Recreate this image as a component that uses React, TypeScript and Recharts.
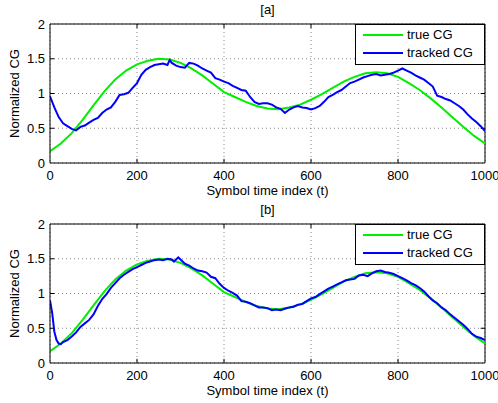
import React from 'react';
import { LineChart, Line, XAxis, YAxis, CartesianGrid, ReferenceLine, Legend, Label } from 'recharts';

const xTicks = [0, 200, 400, 600, 800, 1000];
const yTicks = [0, 0.5, 1, 1.5, 2];

const trueCgTime = [0, 25, 50, 75, 100, 125, 150, 175, 200, 225, 250, 275, 300, 325, 350, 375, 400, 425, 450, 475, 500, 525, 550, 575, 600, 625, 650, 675, 700, 725, 750, 775, 800, 825, 850, 875, 900, 925, 950, 975, 1000];
const trueCgValue = [0.17, 0.28, 0.43, 0.62, 0.83, 1.03, 1.2, 1.33, 1.42, 1.47, 1.5, 1.49, 1.44, 1.36, 1.26, 1.14, 1.02, 0.95, 0.88, 0.82, 0.785, 0.775, 0.8, 0.84, 0.91, 0.99, 1.08, 1.17, 1.24, 1.29, 1.305, 1.29, 1.24, 1.15, 1.05, 0.93, 0.8, 0.66, 0.52, 0.39, 0.28];

const trackedATime = [0, 10, 20, 30, 40, 50, 60, 70, 80, 90, 100, 110, 120, 130, 140, 150, 160, 170, 180, 190, 200, 210, 220, 230, 240, 250, 260, 270, 275, 280, 290, 300, 310, 320, 330, 340, 350, 360, 370, 380, 390, 400, 410, 420, 430, 440, 450, 460, 470, 480, 490, 500, 510, 520, 530, 540, 550, 560, 570, 580, 590, 600, 610, 620, 630, 640, 650, 660, 670, 680, 690, 700, 710, 720, 730, 740, 750, 760, 770, 780, 790, 800, 810, 820, 830, 840, 850, 860, 870, 880, 890, 900, 910, 920, 930, 940, 950, 960, 970, 980, 990, 1000];
const trackedAValue = [0.96, 0.8, 0.66, 0.57, 0.53, 0.49, 0.47, 0.52, 0.54, 0.58, 0.62, 0.65, 0.72, 0.77, 0.8, 0.88, 0.98, 0.99, 1.01, 1.08, 1.15, 1.27, 1.34, 1.38, 1.41, 1.42, 1.43, 1.41, 1.48, 1.44, 1.4, 1.38, 1.37, 1.44, 1.43, 1.4, 1.36, 1.33, 1.3, 1.22, 1.2, 1.17, 1.15, 1.11, 1.08, 1.05, 1.04, 0.95, 0.88, 0.85, 0.86, 0.86, 0.84, 0.8, 0.78, 0.72, 0.77, 0.8, 0.82, 0.8, 0.79, 0.77, 0.79, 0.82, 0.88, 0.95, 0.98, 1.02, 1.05, 1.1, 1.15, 1.17, 1.2, 1.23, 1.25, 1.27, 1.28, 1.26, 1.27, 1.28, 1.3, 1.33, 1.36, 1.33, 1.3, 1.26, 1.23, 1.2, 1.15, 1.1, 0.97, 0.95, 0.92, 0.9, 0.86, 0.82, 0.77, 0.7, 0.64, 0.59, 0.53, 0.46];

const trackedBTime = [0, 5, 10, 15, 20, 25, 30, 40, 50, 60, 70, 80, 90, 100, 110, 120, 130, 140, 150, 160, 170, 180, 190, 200, 210, 220, 230, 240, 250, 260, 270, 280, 285, 295, 300, 310, 320, 330, 340, 350, 360, 370, 380, 390, 400, 410, 420, 430, 440, 450, 460, 470, 480, 490, 500, 510, 520, 530, 540, 550, 560, 570, 580, 590, 600, 610, 620, 630, 640, 650, 660, 670, 680, 690, 700, 710, 720, 730, 740, 750, 760, 770, 780, 790, 800, 810, 820, 830, 840, 850, 860, 870, 880, 890, 900, 910, 920, 930, 940, 950, 960, 970, 980, 990, 1000];
const trackedBValue = [0.9, 0.72, 0.45, 0.33, 0.28, 0.27, 0.3, 0.33, 0.38, 0.44, 0.52, 0.57, 0.62, 0.7, 0.82, 0.92, 0.99, 1.08, 1.15, 1.22, 1.27, 1.31, 1.35, 1.38, 1.41, 1.44, 1.46, 1.48, 1.49, 1.48, 1.5, 1.49, 1.46, 1.52, 1.49, 1.43, 1.4, 1.36, 1.33, 1.32, 1.3, 1.24, 1.22, 1.14, 1.08, 1.04, 1.01, 0.97, 0.89, 0.88, 0.86, 0.83, 0.8, 0.8, 0.79, 0.76, 0.77, 0.76, 0.78, 0.8, 0.81, 0.84, 0.85, 0.89, 0.93, 0.95, 0.99, 1.03, 1.07, 1.1, 1.13, 1.16, 1.19, 1.2, 1.21, 1.26, 1.27, 1.25, 1.29, 1.32, 1.33, 1.31, 1.3, 1.28, 1.25, 1.22, 1.19, 1.15, 1.12, 1.08, 1.03, 0.96, 0.9, 0.86, 0.8, 0.76, 0.7, 0.65, 0.6, 0.55, 0.49, 0.42, 0.38, 0.36, 0.33];

const seriesNames = ['true CG', 'tracked CG'];
const seriesColors = ['#00ee00', '#0000ff'];
const panelTitles = ['[a]', '[b]'];

const FONT = '"Liberation Sans", Arial, Helvetica, sans-serif';

const toPoints = (ts: number[], vs: number[]) => ts.map((t, i) => ({ t, v: vs[i] }));

const trueData = toPoints(trueCgTime, trueCgValue);
const trackedA = toPoints(trackedATime, trackedAValue);
const trackedB = toPoints(trackedBTime, trackedBValue);

const LegendBox = () => (
  <div
    style={{
      position: 'relative',
      width: 130,
      height: 41,
      border: '1px solid #000',
      background: '#fff',
      boxSizing: 'border-box',
      fontFamily: FONT,
      fontSize: 13,
      color: '#000',
    }}
  >
    {seriesNames.map((name, i) => (
      <div
        key={name}
        style={{ position: 'absolute', left: 7, top: 2 + i * 18, height: 16, lineHeight: '16px', display: 'flex', alignItems: 'center' }}
      >
        <svg width={40} height={16} style={{ display: 'block' }}>
          <line x1={0} y1={8} x2={40} y2={8} stroke={seriesColors[i]} strokeWidth={2} />
        </svg>
        <span style={{ marginLeft: 4, whiteSpace: 'nowrap' }}>{name}</span>
      </div>
    ))}
  </div>
);

const fmt = (v: number) => String(v);

const Panel = ({ tracked, top, title }: { tracked: { t: number; v: number }[]; top: number; title: string }) => (
  <div style={{ position: 'absolute', left: 0, top, width: 498, height: 200 }}>
    <div
      style={{
        position: 'absolute',
        left: 0,
        width: 535,
        top: 3,
        textAlign: 'center',
        fontFamily: FONT,
        fontSize: 13,
        lineHeight: '13px',
        color: '#000',
        zIndex: 2,
        pointerEvents: 'none',
      }}
    >
      {title}
    </div>
    <LineChart width={498} height={200} margin={{ top: 24, right: 13, bottom: 17, left: 10 }}>
      <CartesianGrid stroke="#8a8a8a" strokeDasharray="1 3" />
      <XAxis
        dataKey="t"
        type="number"
        domain={[0, 1000]}
        ticks={xTicks}
        height={20}
        tickLine={false}
        tickSize={6}
        tickMargin={2}
        axisLine={{ stroke: '#000' }}
        tick={{ fill: '#000', fontSize: 13, fontFamily: FONT }}
        allowDataOverflow
      >
        <Label value="Symbol time index (t)" position="bottom" offset={3} style={{ fill: '#000', fontSize: 13, fontFamily: FONT }} />
      </XAxis>
      <YAxis
        type="number"
        domain={[0, 2]}
        ticks={yTicks}
        width={40}
        tickLine={false}
        tickSize={4}
        tickMargin={1}
        tickFormatter={fmt}
        axisLine={{ stroke: '#000' }}
        tick={{ fill: '#000', fontSize: 13, fontFamily: FONT }}
        allowDataOverflow
      >
        <Label
          value="Normalized CG"
          angle={-90}
          position="insideLeft"
          offset={4}
          style={{ fill: '#000', fontSize: 13, fontFamily: FONT, textAnchor: 'middle' }}
        />
      </YAxis>
      <ReferenceLine y={2} stroke="#000" strokeWidth={1} ifOverflow="visible" />
      <ReferenceLine x={1000} stroke="#000" strokeWidth={1} ifOverflow="visible" />
      {xTicks.slice(1, -1).map((t) => (
        <ReferenceLine key={'xb' + t} segment={[{ x: t, y: 0 }, { x: t, y: 0.06 }]} stroke="#000" ifOverflow="visible" />
      ))}
      {xTicks.slice(1, -1).map((t) => (
        <ReferenceLine key={'xt' + t} segment={[{ x: t, y: 2 }, { x: t, y: 1.94 }]} stroke="#000" ifOverflow="visible" />
      ))}
      {yTicks.slice(1, -1).map((v) => (
        <ReferenceLine key={'yl' + v} segment={[{ x: 0, y: v }, { x: 10, y: v }]} stroke="#000" ifOverflow="visible" />
      ))}
      {yTicks.slice(1, -1).map((v) => (
        <ReferenceLine key={'yr' + v} segment={[{ x: 1000, y: v }, { x: 990, y: v }]} stroke="#000" ifOverflow="visible" />
      ))}
      <Line
        data={trueData}
        dataKey="v"
        name={seriesNames[0]}
        stroke={seriesColors[0]}
        strokeWidth={2}
        dot={false}
        type="linear"
        isAnimationActive={false}
      />
      <Line
        data={tracked}
        dataKey="v"
        name={seriesNames[1]}
        stroke={seriesColors[1]}
        strokeWidth={2}
        dot={false}
        type="linear"
        isAnimationActive={false}
      />
      <Legend
        layout="horizontal"
        verticalAlign="middle"
        align="center"
        content={() => <LegendBox />}
        wrapperStyle={{ position: 'absolute', top: 24, left: 355, width: 130, height: 41, margin: 0, padding: 0 }}
      />
    </LineChart>
  </div>
);

export default function App() {
  return (
    <div style={{ position: 'absolute', left: 0, top: 0, width: 498, height: 403, background: '#fff', overflow: 'hidden' }}>
      <Panel tracked={trackedA} top={0} title={panelTitles[0]} />
      <Panel tracked={trackedB} top={200} title={panelTitles[1]} />
    </div>
  );
}
